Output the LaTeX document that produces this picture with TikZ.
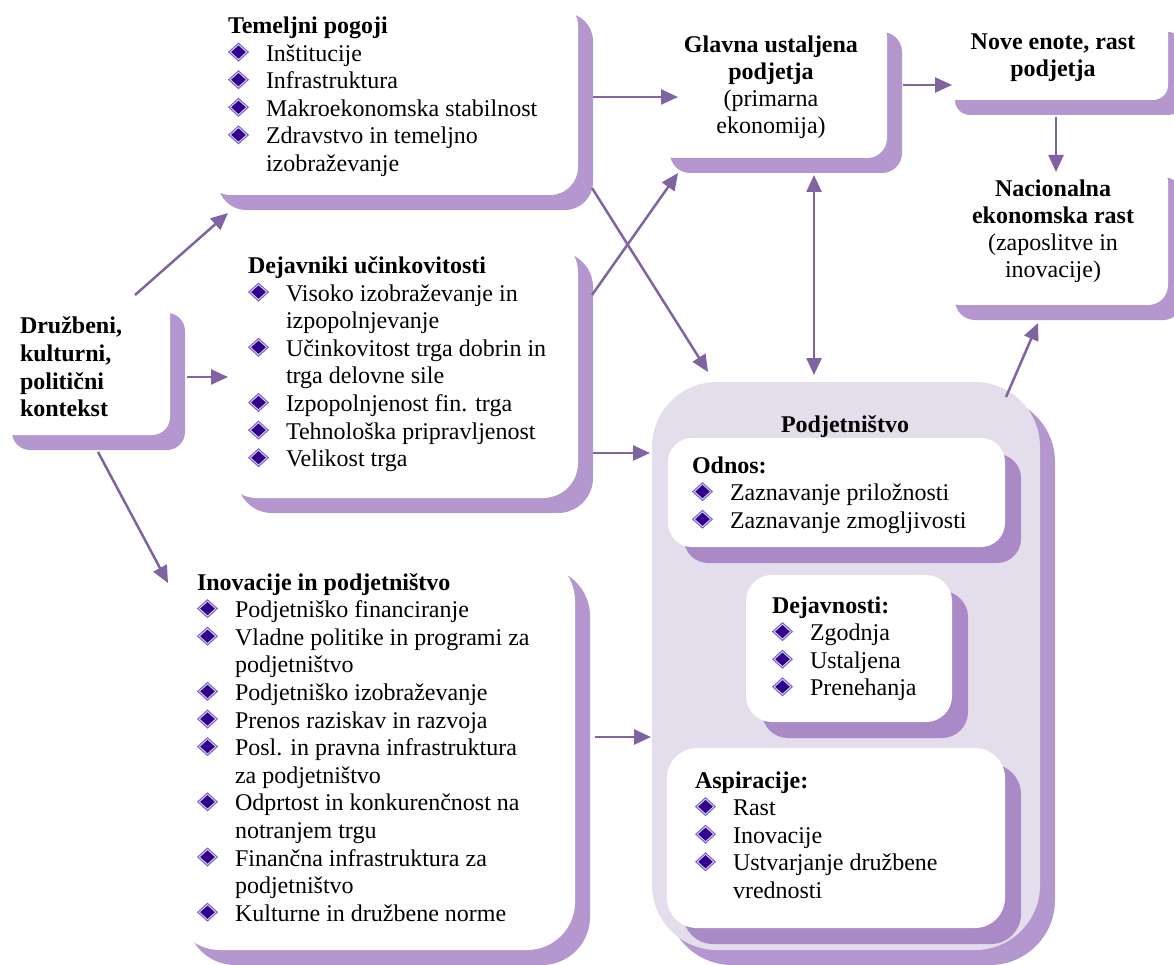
\documentclass[tikz,border=0pt]{standalone}
\usepackage{fontspec}
\setmainfont{Liberation Serif}
\usetikzlibrary{arrows.meta,shadows,fit,calc}
\definecolor{shP}{HTML}{B497CF}
\definecolor{shD}{HTML}{A98AC6}
\definecolor{lav}{HTML}{E4DEEC}
\definecolor{arrc}{HTML}{8064A2}
\definecolor{dmdA}{HTML}{6F5FC8}
\definecolor{dmdB}{HTML}{DCD4F4}
\definecolor{dmdC}{HTML}{33008C}
\newcommand\dmd{\tikz[x=1pt,y=1pt,baseline=-9pt]{\fill[dmdA](-10.5,0)--(0,9.5)--(10.5,0)--(0,-9.5)--cycle;\fill[dmdB](-8.9,0)--(0,8)--(8.9,0)--(0,-8)--cycle;\fill[dmdC](-7.3,0)--(0,6.6)--(7.3,0)--(0,-6.6)--cycle;}}
\newcommand\bitem[1]{\makebox[38pt][l]{\dmd}#1}
\newcommand\bcont[1]{\hspace*{38pt}#1}
\newcommand\lbox[1]{\begin{minipage}[t]{400pt}\raggedright #1\end{minipage}}
\newcommand\cbox[1]{\begin{minipage}[t]{300pt}\centering #1\end{minipage}}
\begin{document}
\begin{tikzpicture}[x=1pt,y=-1pt,
  wbox/.style={fill=white, inner sep=0pt, outer sep=0pt, general shadow={fill=shP, shadow xshift=15pt, shadow yshift=-15pt}},
  ibox/.style={fill=white, inner sep=0pt, outer sep=0pt, general shadow={fill=shD, shadow xshift=16pt, shadow yshift=-16pt}},
  txt/.style={inner sep=0pt, outer sep=0pt, anchor=base west, font=\fontsize{24}{27.6}\selectfont},
  ctxt/.style={inner sep=0pt, outer sep=0pt, anchor=base, font=\fontsize{24}{27}\selectfont},
  arr/.style={draw=arrc, line width=2.5pt, -{Triangle[length=17pt,width=15pt]}},
  darr/.style={draw=arrc, line width=2.5pt, {Triangle[length=17pt,width=15pt]}-{Triangle[length=17pt,width=15pt]}}]
\useasboundingbox (0,0) rectangle (1174,965);
\clip (0,0) rectangle (1174,965);
\fill[white] (0,0) rectangle (1174,965);

% outer boxes
\node[wbox, rounded corners=18pt, fit={(-3,298) (170,435)}] (A) {};
\node[wbox, rounded corners=28pt, fit={(203,-2) (578,195)}] (B) {};
\node[wbox, rounded corners=35pt, fit={(222,237) (578,498)}] (C) {};
\node[wbox, rounded corners=48pt, fit={(172,553) (575,950)}] (D) {};
\node[wbox, rounded corners=20pt, fit={(655,17) (887,158)}] (E) {};
\node[wbox, rounded corners=15pt, fit={(940,17) (1168,100)}] (F) {};
\node[wbox, rounded corners=20pt, fit={(940,162) (1168,305)}] (G) {};
\node[fill=lav, inner sep=0pt, outer sep=0pt, rounded corners=65pt, general shadow={fill=shP, shadow xshift=15pt, shadow yshift=-15pt}, fit={(652,382) (1040,950)}] (H) {};
\node[ibox, rounded corners=24pt, fit={(668,438) (1005,547)}] (I) {};
\node[ibox, rounded corners=26pt, fit={(746,575) (952,722)}] (J) {};
\node[ibox, rounded corners=30pt, fit={(667,748) (1005,928)}] (K) {};

% texts
\node[txt] (tA) at (20,334) {\lbox{\bfseries Družbeni,\\kulturni,\\politični\\kontekst}};
\node[txt] (tB) at (228,33.5) {\lbox{\textbf{Temeljni pogoji}\\\bitem{Inštitucije}\\\bitem{Infrastruktura}\\\bitem{Makroekonomska stabilnost}\\\bitem{Zdravstvo in temeljno}\\\bcont{izobraževanje}}};
\node[txt] (tC) at (248,273.5) {\lbox{\textbf{Dejavniki učinkovitosti}\\\bitem{Visoko izobraževanje in}\\\bcont{izpopolnjevanje}\\\bitem{Učinkovitost trga dobrin in}\\\bcont{trga delovne sile}\\\bitem{Izpopolnjenost fin. trga}\\\bitem{Tehnološka pripravljenost}\\\bitem{Velikost trga}}};
\node[txt] (tD) at (197,590) {\lbox{\textbf{Inovacije in podjetništvo}\\\bitem{Podjetniško financiranje}\\\bitem{Vladne politike in programi za}\\\bcont{podjetništvo}\\\bitem{Podjetniško izobraževanje}\\\bitem{Prenos raziskav in razvoja}\\\bitem{Posl. in pravna infrastruktura}\\\bcont{za podjetništvo}\\\bitem{Odprtost in konkurenčnost na}\\\bcont{notranjem trgu}\\\bitem{Finančna infrastruktura za}\\\bcont{podjetništvo}\\\bitem{Kulturne in družbene norme}}};
\node[ctxt] (tE) at (771,53) {\cbox{\textbf{Glavna ustaljena}\\\textbf{podjetja}\\(primarna\\ekonomija)}};
\node[ctxt] (tF) at (1053,50) {\cbox{\textbf{Nove enote, rast}\\\textbf{podjetja}}};
\node[ctxt] (tG) at (1053,197) {\cbox{\textbf{Nacionalna}\\\textbf{ekonomska rast}\\(zaposlitve in\\inovacije)}};
\node[ctxt] (tH) at (845,432) {\textbf{Podjetništvo}};
\node[txt] (tI) at (692,473) {\lbox{\textbf{Odnos:}\\\bitem{Zaznavanje priložnosti}\\\bitem{Zaznavanje zmogljivosti}}};
\node[txt] (tJ) at (772,613) {\lbox{\textbf{Dejavnosti:}\\\bitem{Zgodnja}\\\bitem{Ustaljena}\\\bitem{Prenehanja}}};
\node[txt] (tK) at (695,788) {\lbox{\textbf{Aspiracije:}\\\bitem{Rast}\\\bitem{Inovacije}\\\bitem{Ustvarjanje družbene}\\\bcont{vrednosti}}};

% connectors
\draw[arr] ($(A.north east)+(-35,-3)$) -- ($(B.south west)+(25,18)$);
\draw[arr] ($(A.east)+(17,10.5)$) -- ($(C.west)+(6,9.5)$);
\draw[arr] ($(A.south)+(14.5,17)$) -- ($(D.north west)+(-4,30)$);
\draw[arr] ($(B.east)+(15,0.5)$) -- ($(E.west)+(23,9.5)$);
\draw[arr] ($(B.south east)+(14,-7)$) -- ($(H.north west)+(56,-10)$);
\draw[arr] ($(C.north east)+(14,58)$) -- ($(E.south west)+(23,15)$);
\draw[arr] ($(C.east)+(15,85.5)$) -- ($(H.north west)+(-2,71)$);
\draw[arr] ($(D.east)+(20,-14.5)$) -- ($(H.west)+(-1,71)$);
\draw[darr] ($(E.south)+(43,17)$) -- ($(H.north)+(-32,-7)$);
\draw[arr] ($(E.east)+(16,-2.5)$) -- ($(F.west)+(12,26.5)$);
\draw[arr] ($(F.south)+(2,17)$) -- ($(G.north)+(2,10)$);
\draw[arr] ($(H.north east)+(-34,15)$) -- ($(G.south)+(-16,18)$);
\end{tikzpicture}
\end{document}
